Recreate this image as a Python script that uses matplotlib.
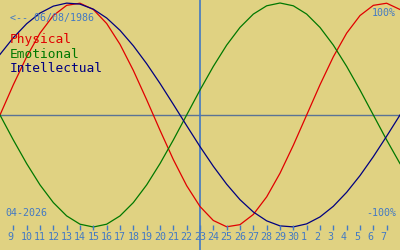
import matplotlib
matplotlib.use("Agg")
import matplotlib.pyplot as plt
from matplotlib.transforms import offset_copy, blended_transform_factory

# days shown: 8 Apr 2026 .. 8 May 2026 (index 0..30)
day_labels = [str(d) for d in range(9, 31)] + [str(d) for d in range(1, 8)]
today_index = 15          # 23 Apr
birth_text = "<-- 06/08/1986"
month_text = "04-2026"

# daily biorhythm values, 8 Apr .. 8 May
physical = [0.0, 0.270, 0.520, 0.731, 0.888, 0.979, 0.998, 0.942, 0.817, 0.631,
            0.398, 0.136, -0.136, -0.398, -0.631, -0.817, -0.942, -0.998, -0.979,
            -0.888, -0.731, -0.520, -0.270, 0.0, 0.270, 0.520, 0.731, 0.888,
            0.979, 0.998, 0.942]
emotional = [0.0, -0.223, -0.434, -0.624, -0.782, -0.901, -0.975, -1.0, -0.975,
             -0.901, -0.782, -0.624, -0.434, -0.223, 0.0, 0.223, 0.434, 0.624,
             0.782, 0.901, 0.975, 1.0, 0.975, 0.901, 0.782, 0.624, 0.434, 0.223,
             0.0, -0.223, -0.434]
intellectual = [0.541, 0.690, 0.815, 0.910, 0.972, 0.999, 0.990, 0.945, 0.866,
                0.756, 0.618, 0.458, 0.282, 0.095, -0.095, -0.282, -0.458, -0.618,
                -0.756, -0.866, -0.945, -0.990, -0.999, -0.972, -0.910, -0.815,
                -0.690, -0.541, -0.372, -0.189, 0.0]

BG = "#e0d282"
BLUE = "#4279c4"
RED = "#e00000"
GREEN = "#007800"
NAVY = "#000080"
MONO = "DejaVu Sans Mono"

W, H = 400, 250
fig = plt.figure(figsize=(4, 2.5), dpi=100, facecolor=BG)
ax = fig.add_axes([0, 0, 1, 1])
ax.set_facecolor(BG)
ax.set_axis_off()

xs = list(range(len(physical)))
ax.set_xlim(0, 30)
# pixel 115 is zero, 112 px per unit
ax.set_ylim(-(H - 115) / 112, 115 / 112)

ax.axhline(0, color="#5a7396", lw=1.0)
ax.axvline(today_index, color=BLUE, lw=1.2)

ax.plot(xs, physical, color=RED, lw=0.9)
ax.plot(xs, emotional, color=GREEN, lw=0.9)
ax.plot(xs, intellectual, color=NAVY, lw=0.9)

# day ticks along the bottom
tr = blended_transform_factory(ax.transData, ax.transAxes)
ticks = list(range(1, 1 + len(day_labels)))
ax.vlines(ticks, 1 - 230 / H, 1 - 225 / H, transform=tr, color=BLUE, lw=1.0)
lab_tr = offset_copy(tr, fig=fig, x=-6, y=0, units="dots")
for t, s in zip(ticks, day_labels):
    ax.text(t, 1 - 240 / H, s, transform=lab_tr, ha="left", va="baseline",
            fontsize=7.2, family=MONO, color=BLUE)

def put(px, py, s, color, size, ha="left"):
    ax.text(px / W, 1 - py / H, s, transform=ax.transAxes, ha=ha, va="baseline",
            fontsize=size, family=MONO, color=color)

put(10, 21, birth_text, BLUE, 7.2)
put(396, 16, "100%", BLUE, 7.2, ha="right")
put(5, 216, month_text, BLUE, 7.2)
put(396, 216.5, "-100%", BLUE, 7.2, ha="right")
put(10, 43, "Physical", RED, 9.3)
put(10, 57.5, "Emotional", GREEN, 9.3)
put(10, 72.5, "Intellectual", NAVY, 9.3)

fig.savefig("out.png", dpi=100, facecolor=BG)
